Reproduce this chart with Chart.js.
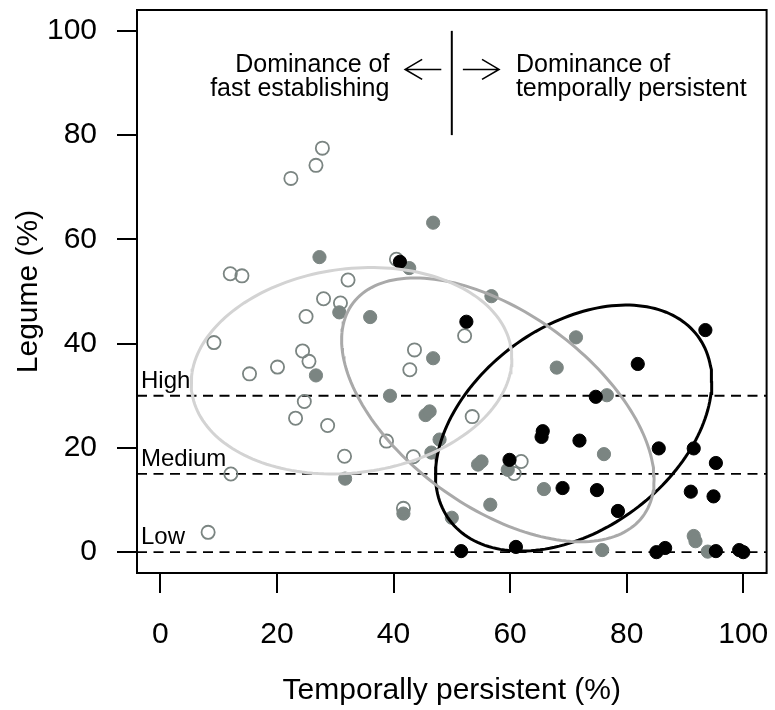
<!DOCTYPE html>
<html>
<head>
<meta charset="utf-8">
<script src="https://cdn.jsdelivr.net/npm/chart.js@4"></script>
<style>
  body { margin: 0; background: #fff; }
  canvas { display: block; }
</style>
</head>
<body>
<canvas id="grafico" width="775" height="710"></canvas>
<script>
// --- 1. DATA ---
// open circles (fast establishing dominated plots)
const openX = [8.2, 12.1, 15.3, 20.1, 24.4, 25.5, 24.7, 23.2, 28.7, 31.6, 9.2, 27.8, 26.7, 22.4, 12.0,
               14.0, 32.2, 28.0, 30.9, 25.0, 40.5, 52.2, 43.6, 42.8, 53.5, 38.8, 43.4, 61.9, 60.7, 41.7];
const openY = [3.8, 15.0, 34.2, 35.5, 38.6, 36.6, 28.9, 25.7, 24.3, 18.4, 40.2, 77.5, 74.2, 71.7, 53.4,
               53.0, 52.2, 48.6, 47.8, 45.2, 56.2, 41.5, 38.8, 35.0, 26.0, 21.3, 18.3, 17.4, 15.1, 8.4];

// grey filled circles
const greyX = [46.8, 27.3, 42.7, 30.7, 56.8, 36.0, 46.8, 26.7, 39.4, 45.5, 46.2, 47.9, 46.5, 54.5, 55.1,
               59.6, 31.7, 65.8, 41.7, 56.6, 50.0, 71.3, 68.0, 76.6, 76.1, 91.5, 91.8, 75.8, 93.9];
const greyY = [63.2, 56.6, 54.5, 46.0, 49.1, 45.1, 37.2, 33.9, 30.0, 26.3, 27.0, 21.6, 19.1, 16.8, 17.4,
               15.8, 14.1, 12.1, 7.4, 9.1, 6.6, 41.2, 35.4, 30.1, 18.8, 3.1, 2.1, 0.4, 0.1];

// black filled circles
const blackX = [41.1, 52.5, 65.6, 65.4, 59.9, 69.0, 51.6, 61.0, 93.5, 81.9, 74.7, 71.9, 85.5, 91.5, 95.3,
                74.9, 91.0, 94.9, 78.5, 85.1, 86.6, 95.3, 99.3, 100.0];
const blackY = [55.7, 44.2, 23.2, 22.1, 17.7, 12.3, 0.2, 1.0, 42.6, 36.1, 29.8, 21.4, 19.9, 19.9, 17.1,
                11.9, 11.6, 10.7, 7.9, 0.0, 0.8, 0.2, 0.4, 0.0];

// ellipses: centre, half range in x / y and correlation (open, grey, black)
const ellipseCx = [32.8, 57.9, 70.9];
const ellipseCy = [34.8, 27.3, 23.8];
const ellipseSx = [27.5, 26.8, 23.7];
const ellipseSy = [19.8, 25.3, 23.6];
const ellipseR  = [0.12, -0.53, 0.38];

const xTicks = [0, 20, 40, 60, 80, 100];
const yTicks = [0, 20, 40, 60, 80, 100];
const levelValues = [30, 15, 0];
const levelLabels = ['High', 'Medium', 'Low'];

// --- 2. STYLE ---
const FONTE = '"Liberation Sans", Arial, Helvetica, sans-serif';
const CINZA = '#7b8582';
const CORES_ELIPSE = ['#d3d3d3', '#a9a9a9', '#000000'];

function pares(xs, ys) {
    return xs.map((x, i) => ({ x: x, y: ys[i] }));
}

// outline of one ellipse, walked around once (x from cos, y correlated with x)
function contornoElipse(i) {
    const pts = [];
    const r = ellipseR[i];
    for (let k = 0; k <= 180; k++) {
        const t = (k / 180) * 2 * Math.PI;
        pts.push({
            x: ellipseCx[i] + ellipseSx[i] * Math.cos(t),
            y: ellipseCy[i] + ellipseSy[i] * (r * Math.cos(t) + Math.sqrt(1 - r * r) * Math.sin(t))
        });
    }
    return pts;
}

function seta(ctx, x0, x1, y) {
    const dir = Math.sign(x1 - x0);
    ctx.beginPath();
    ctx.moveTo(x0, y);
    ctx.lineTo(x1, y);
    ctx.moveTo(x1 - dir * 17, y - 10);
    ctx.lineTo(x1, y);
    ctx.lineTo(x1 - dir * 17, y + 10);
    ctx.stroke();
}

// --- 3. EXTRA DRAWING (box, levels, annotation) ---
const extras = {
    id: 'extras',
    beforeDatasetsDraw(chart) {
        const { ctx, chartArea: a, scales: { y } } = chart;
        ctx.save();
        ctx.strokeStyle = '#000';
        ctx.lineWidth = 1.8;
        ctx.setLineDash([10, 6.5]);
        levelValues.forEach((v, i) => {
            const py = y.getPixelForValue(v);
            ctx.beginPath();
            ctx.moveTo(a.left, py);
            ctx.lineTo(a.right, py);
            ctx.stroke();
        });
        ctx.setLineDash([]);
        ctx.fillStyle = '#000';
        ctx.font = '24px ' + FONTE;
        ctx.textAlign = 'left';
        ctx.textBaseline = 'alphabetic';
        levelValues.forEach((v, i) => {
            ctx.fillText(levelLabels[i], a.left + 4, y.getPixelForValue(v) - 8);
        });
        ctx.restore();
    },
    afterDatasetsDraw(chart) {
        const { ctx, chartArea: a, scales: { x, y } } = chart;
        ctx.save();
        ctx.strokeStyle = '#000';
        ctx.lineWidth = 2;
        ctx.strokeRect(a.left, a.top, a.right - a.left, a.bottom - a.top);

        // divider at 50 % with arrows
        const px = x.getPixelForValue(50);
        ctx.beginPath();
        ctx.moveTo(px, y.getPixelForValue(80));
        ctx.lineTo(px, y.getPixelForValue(100));
        ctx.stroke();
        ctx.lineWidth = 1.6;
        const ay = y.getPixelForValue(92.6);
        seta(ctx, x.getPixelForValue(48.2), x.getPixelForValue(42), ay);
        seta(ctx, x.getPixelForValue(51.9), x.getPixelForValue(58.1), ay);

        ctx.fillStyle = '#000';
        ctx.font = '25px ' + FONTE;
        ctx.textBaseline = 'alphabetic';
        ctx.textAlign = 'right';
        ctx.fillText('Dominance of', x.getPixelForValue(39.3), ay + 3);
        ctx.fillText('fast establishing', x.getPixelForValue(39.3), ay + 27);
        ctx.textAlign = 'left';
        ctx.fillText('Dominance of', x.getPixelForValue(61.0), ay + 3);
        ctx.fillText('temporally persistent', x.getPixelForValue(61.0), ay + 27);
        ctx.restore();
    }
};

// --- 4. CHART ---
const pontoBase = { showLine: false, pointRadius: 6.6, pointHoverRadius: 6.6, pointStyle: 'circle' };

const datasets = [
    Object.assign({ label: 'open', data: pares(openX, openY), pointBackgroundColor: 'rgba(0,0,0,0)',
        pointBorderColor: CINZA, pointBorderWidth: 1.8, order: 3 }, pontoBase),
    Object.assign({ label: 'grey', data: pares(greyX, greyY), pointBackgroundColor: CINZA,
        pointBorderColor: CINZA, pointBorderWidth: 1, order: 4 }, pontoBase),
    Object.assign({ label: 'black', data: pares(blackX, blackY), pointBackgroundColor: '#000',
        pointBorderColor: '#000', pointBorderWidth: 1, order: 2 }, pontoBase)
];

ellipseCx.forEach((c, i) => {
    datasets.push({
        label: 'ellipse' + i,
        data: contornoElipse(i),
        showLine: true,
        fill: false,
        tension: 0,
        pointRadius: 0,
        borderColor: CORES_ELIPSE[i],
        borderWidth: 3,
        order: 1
    });
});

function eixo(ticksVals, titulo, ehX) {
    return {
        type: 'linear',
        min: -4,
        max: 104,
        afterBuildTicks: (axis) => { axis.ticks = ticksVals.map(v => ({ value: v })); },
        afterFit: (axis) => {
            if (ehX) axis.height = 137; else axis.width = 137;
            // labels may overflow the plot box, like in R
            axis.paddingTop = 0;
            axis.paddingBottom = 0;
            axis.paddingLeft = 0;
            axis.paddingRight = 0;
        },
        grid: { display: true, drawOnChartArea: false, drawTicks: true, tickLength: 20,
                color: '#000', lineWidth: 2 },
        border: { display: false },
        ticks: { color: '#000', font: { family: FONTE, size: 30 }, padding: ehX ? 24 : 20,
                 maxRotation: 0, autoSkip: false },
        title: { display: true, text: titulo, color: '#000', font: { family: FONTE, size: 30, lineHeight: 1.2 },
                 padding: ehX ? { top: 0, bottom: 1 } : { top: 11, bottom: 0 } }
    };
}

new Chart(document.getElementById('grafico').getContext('2d'), {
    type: 'scatter',
    data: { datasets: datasets },
    options: {
        responsive: false,
        animation: false,
        devicePixelRatio: 1,
        layout: { padding: { top: 10, right: 6, left: 0, bottom: 0 } },
        plugins: { legend: { display: false }, tooltip: { enabled: false } },
        scales: {
            x: eixo(xTicks, 'Temporally persistent (%)', true),
            y: eixo(yTicks, 'Legume (%)', false)
        }
    },
    plugins: [extras]
});
</script>
</body>
</html>
